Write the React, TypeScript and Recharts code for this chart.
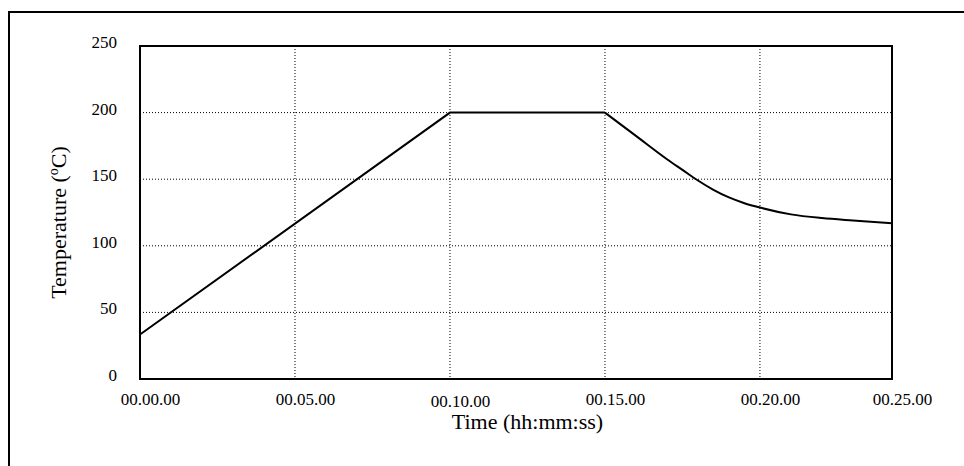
import React from 'react';
import { LineChart, Line, XAxis, YAxis, CartesianGrid, Label, ReferenceArea } from 'recharts';

// minutes from start
const times = [0, 10, 15, 16, 17, 17.5, 18, 18.5, 19, 19.5, 20, 21, 22, 23, 24.26];
const heating = [33.4, 200, 200, null, null, null, null, null, null, null, null, null, null, null, null];
const cooling = [null, null, 200, 182.5, 165, 157, 149, 142, 136.3, 132, 128.7, 123.6, 120.8, 119, 117];

const xTicks = [0, 5, 10, 15, 20, 24.26];
const xTickLabels = ['00.00.00', '00.05.00', '00.10.00', '00.15.00', '00.20.00', '00.25.00'];
const yTicks = [0, 50, 100, 150, 200, 250];

const data = times.map((t, i) => ({ t, heating: heating[i], cooling: cooling[i] }));

const FONT = '"Liberation Serif", "Times New Roman", serif';

const XTick = (props: any) => {
  const { x, y, index } = props;
  const extra = index === 2 ? 2.5 : 0;
  return (
    <text x={x + 10.5} y={y + 23.5 + extra} textAnchor="middle" fontFamily={FONT} fontSize={17} fill="#000">
      {xTickLabels[index]}
    </text>
  );
};

const YTick = (props: any) => {
  const { x, y, payload } = props;
  return (
    <text x={x} y={y + 2} textAnchor="end" fontFamily={FONT} fontSize={17} fill="#000">
      {payload.value}
    </text>
  );
};

const XTitle = (props: any) => {
  const { viewBox } = props;
  return (
    <text x={viewBox.x + viewBox.width / 2 + 11.5} y={viewBox.y + 50} textAnchor="middle" fontFamily={FONT} fontSize={22} fill="#000">
      Time (hh:mm:ss)
    </text>
  );
};

const YTitle = (props: any) => {
  const { viewBox } = props;
  const cx = 66;
  const cy = viewBox.y + viewBox.height / 2 + 10;
  return (
    <text x={cx} y={cy} transform={`rotate(-90, ${cx}, ${cy})`} textAnchor="middle" fontFamily={FONT} fontSize={22} fill="#000">
      Temperature (<tspan dy={-8} fontSize={14}>o</tspan><tspan dy={8}>C)</tspan>
    </text>
  );
};

export default function App() {
  return (
    <div style={{ position: 'absolute', left: 0, top: 0, width: 964, height: 466, overflow: 'hidden', background: '#fff' }}>
      <div style={{ position: 'absolute', left: 8, top: 11, width: 1000, height: 1000, borderTop: '2px solid #000', borderLeft: '2px solid #000' }} />
      <div style={{ position: 'absolute', left: 0, top: 0 }}>
        <LineChart width={964} height={466} data={data} margin={{ top: 46, right: 72, bottom: 47, left: 80 }}>
          <CartesianGrid stroke="#000" strokeDasharray="1 2" />
          <XAxis
            dataKey="t"
            type="number"
            domain={[0, 24.26]}
            ticks={xTicks}
            interval={0}
            height={40}
            tickLine={false}
            tickSize={0}
            tick={<XTick />}
            axisLine={{ stroke: '#000', strokeWidth: 2 }}
          >
            <Label content={<XTitle />} />
          </XAxis>
          <YAxis
            type="number"
            domain={[0, 250]}
            ticks={yTicks}
            interval={0}
            width={60}
            tickLine={false}
            tickSize={0}
            tickMargin={23}
            tick={<YTick />}
            axisLine={{ stroke: '#000', strokeWidth: 2 }}
          >
            <Label content={<YTitle />} />
          </YAxis>
          <ReferenceArea x1={0} x2={24.26} y1={0} y2={250} fill="none" stroke="#000" strokeWidth={2} ifOverflow="visible" />
          <Line dataKey="heating" type="linear" stroke="#000" strokeWidth={2} dot={false} isAnimationActive={false} connectNulls={false} />
          <Line dataKey="cooling" type="monotone" stroke="#000" strokeWidth={2} dot={false} isAnimationActive={false} connectNulls={false} />
        </LineChart>
      </div>
    </div>
  );
}
